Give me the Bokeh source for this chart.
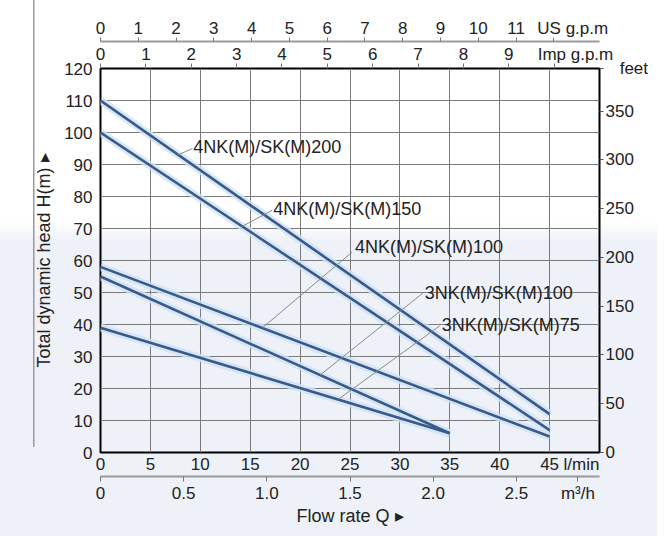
from bokeh.plotting import figure
from bokeh.models import (LinearAxis, Range1d, FixedTicker, CustomJSTickFormatter)
from bokeh.core.properties import value
from bokeh.embed import file_html
from bokeh.resources import INLINE

# ---- data (flow in l/min, head in m) ----
curve_names = ["4NK(M)/SK(M)200", "4NK(M)/SK(M)150", "4NK(M)/SK(M)100",
               "3NK(M)/SK(M)100", "3NK(M)/SK(M)75"]
flow_4nk200 = [0, 45]
head_4nk200 = [110, 12]
flow_4nk150 = [0, 45]
head_4nk150 = [100, 7]
flow_4nk100 = [0, 45]
head_4nk100 = [58, 5]
flow_3nk100 = [0, 35]
head_3nk100 = [55, 6]
flow_3nk75 = [0, 35]
head_3nk75 = [39, 6]

lpm_ticks = [0, 5, 10, 15, 20, 25, 30, 35, 40, 45]
head_ticks = [0, 10, 20, 30, 40, 50, 60, 70, 80, 90, 100, 110, 120]
feet_ticks = [0, 50, 100, 150, 200, 250, 300, 350]
us_gpm_ticks = [0, 1, 2, 3, 4, 5, 6, 7, 8, 9, 10, 11, 12]
imp_gpm_ticks = [0, 1, 2, 3, 4, 5, 6, 7, 8, 9, 10]
m3h_ticks = [0, 0.5, 1.0, 1.5, 2.0, 2.5]

# unit captions and where they sit on their scales
unit_lpm, unit_lpm_at = "l/min", 48.2
unit_m3h, unit_m3h_at = "m\u00b3/h", 2.87
unit_feet, unit_feet_at = "feet", 393.7
unit_us = "US g.p.m"
unit_imp = "Imp g.p.m"

flows = [flow_4nk200, flow_4nk150, flow_4nk100, flow_3nk100, flow_3nk75]
heads = [head_4nk200, head_4nk150, head_4nk100, head_3nk100, head_3nk75]

# label placement (data coords)
label_x = [9.3, 17.3, 25.5, 32.5, 34.2]
label_y = [95.4, 76.1, 64.2, 49.9, 39.9]
leader_from_x = [7.8, 14.2, 16.2, 22.0, 23.8]
leader_to_x = [9.2, 17.2, 25.2, 32.3, 34.0]
leader_to_y = [95.0, 75.7, 62.6, 49.8, 39.6]

FONT = "Liberation Sans"
TXT = "#222222"
NB = "\u00a0"

p = figure(width=657, height=528, x_range=Range1d(0, 50), y_range=Range1d(0, 120),
           output_backend="svg", toolbar_location=None,
           min_border_left=100, min_border_right=58, min_border_top=68,
           min_border_bottom=75)
p.background_fill_color = None
p.border_fill_color = None
p.outline_line_color = "black"
p.outline_line_width = 2
p.styles = {
    "background": ("linear-gradient(#9a9a9a, #9a9a9a) 33px 0px / 1.5px 447px no-repeat, "
                   "linear-gradient(to bottom, #ffffff 0px, #ffffff 222px, "
                   "#eef1f7 242px, #eef1f7 100%)"),
    "box-shadow": "0px 8px 0px 0px #eef1f7",
}

p.extra_x_ranges = {"us": Range1d(0, 50 / 3.78541),
                    "imp": Range1d(0, 50 / 4.54609),
                    "m3h": Range1d(0, 3.0)}
p.extra_y_ranges = {"ft": Range1d(0, 120 * 3.28084)}

def style_axis(ax):
    ax.major_label_text_font = FONT
    ax.major_label_text_font_size = "17px"
    ax.major_label_text_color = TXT
    ax.axis_label_text_font = FONT
    ax.axis_label_text_font_size = "18px"
    ax.axis_label_text_font_style = "normal"
    ax.axis_label_text_color = TXT
    ax.minor_tick_line_color = None
    ax.major_tick_in = 0

# primary bottom (l/min)
xa = p.xaxis[0]
xa.ticker = FixedTicker(ticks=lpm_ticks + [unit_lpm_at])
xa.major_label_overrides = {unit_lpm_at: unit_lpm}
style_axis(xa)
xa.major_tick_out = 0
xa.axis_line_color = None
xa.major_label_standoff = 2

# primary left (m)
ya = p.yaxis[0]
ya.ticker = FixedTicker(ticks=head_ticks)
style_axis(ya)
ya.major_tick_out = 0
ya.axis_line_color = None
ya.major_label_standoff = 8
ya.axis_label = "Total dynamic head H(m) \u25b8"
ya.axis_label_standoff = 7

# secondary bottom m3/h
m3 = LinearAxis(x_range_name="m3h", ticker=FixedTicker(ticks=m3h_ticks + [unit_m3h_at]),
                formatter=CustomJSTickFormatter(
                    args=dict(unit=unit_m3h, at=unit_m3h_at),
                    code="if (tick === at) { return unit; } return tick === 0 ? '0' : tick.toFixed(1);"))
style_axis(m3)
m3.axis_line_color = "#9a9a9a"
m3.axis_line_width = 2
m3.major_tick_out = 5
m3.major_tick_line_color = "#777777"
m3.major_label_standoff = 2
m3.axis_label = "Flow rate Q \u25b8"
m3.axis_label_standoff = 0
p.add_layout(m3, "below")

# right feet
fa = LinearAxis(y_range_name="ft", ticker=FixedTicker(ticks=feet_ticks + [unit_feet_at]),
                major_label_overrides={unit_feet_at: NB * 3 + unit_feet})
style_axis(fa)
fa.axis_line_color = None
fa.major_tick_out = 4
fa.major_tick_line_color = "#555555"
fa.major_label_standoff = 2
p.add_layout(fa, "right")

# top Imp g.p.m (adjacent to frame)
ia = LinearAxis(x_range_name="imp", ticker=FixedTicker(ticks=imp_gpm_ticks),
                major_label_overrides={10: NB * 9 + unit_imp})
style_axis(ia)
ia.axis_line_color = None
ia.major_tick_out = 5
ia.major_tick_line_color = "#777777"
ia.major_label_standoff = 0
p.add_layout(ia, "above")

# top US g.p.m
ua = LinearAxis(x_range_name="us", ticker=FixedTicker(ticks=us_gpm_ticks),
                major_label_overrides={12: NB * 8 + unit_us})
style_axis(ua)
ua.axis_line_color = "#9a9a9a"
ua.axis_line_width = 2
ua.major_tick_out = 4
ua.major_tick_line_color = "#777777"
ua.major_label_standoff = 0
p.add_layout(ua, "above")

# grids (only at the numeric flow ticks)
p.xgrid.ticker = FixedTicker(ticks=lpm_ticks)
p.xgrid.grid_line_color = "#7a7a7a"
p.ygrid.grid_line_color = "#7a7a7a"
p.xgrid.grid_line_width = 1
p.ygrid.grid_line_width = 1

# curves
for fl, hd in zip(flows, heads):
    p.line(fl, hd, line_color="#cfe2f4", line_width=8, line_alpha=0.8)
for fl, hd in zip(flows, heads):
    p.line(fl, hd, line_color="#385a88", line_width=2.6)

# leader lines
def interp(x, xs, ys):
    t = (x - xs[0]) / (xs[1] - xs[0])
    return ys[0] + t * (ys[1] - ys[0])

leader_from_y = [interp(x, fl, hd) for x, fl, hd in zip(leader_from_x, flows, heads)]
p.segment(x0=leader_from_x, y0=leader_from_y, x1=leader_to_x, y1=leader_to_y,
          line_color="#8a8a8a", line_width=1)

p.text(x=label_x, y=label_y, text=curve_names, text_font=value(FONT),
       text_font_size="18px", text_baseline="middle", text_align="left",
       text_color=TXT)

open("out.html", "w").write(file_html(p, INLINE))
